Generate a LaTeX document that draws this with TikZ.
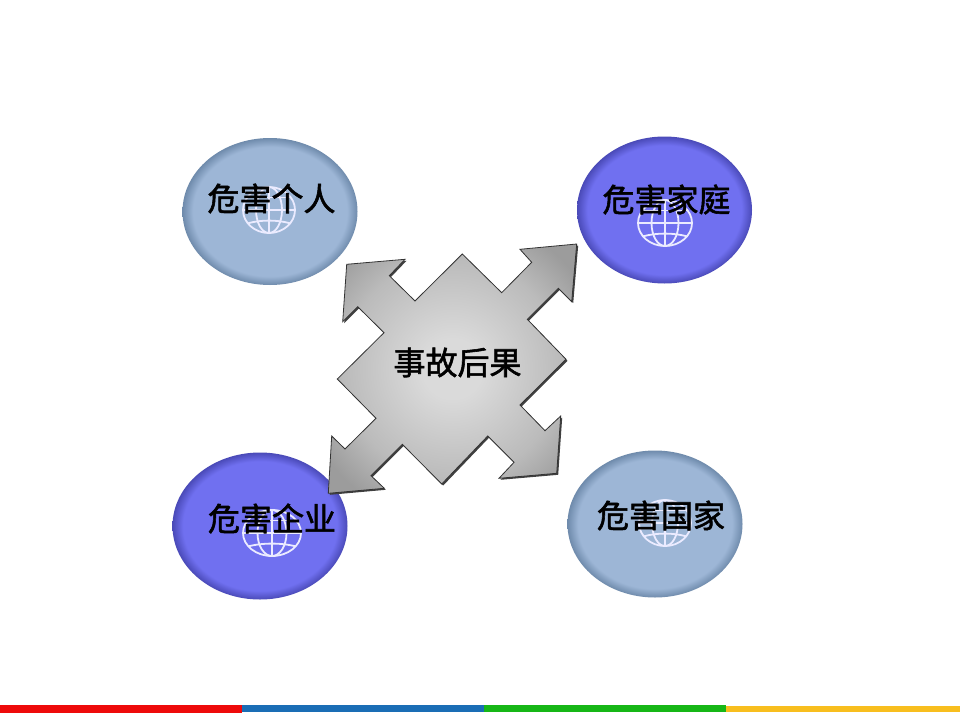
\documentclass[tikz,border=0pt]{standalone}
\usepackage{fontspec}
\newfontfamily\cjk[FakeBold=1.8]{Noto Sans CJK SC}
\definecolor{bluec}{HTML}{9DB6D6}
\definecolor{bluee}{HTML}{6F8BAC}
\definecolor{violc}{HTML}{7070F0}
\definecolor{viole}{HTML}{4A4AB8}
\pgfdeclareradialshading{ballblue}{\pgfpoint{0bp}{0bp}}{color(0bp)=(bluec);color(22bp)=(bluec);color(25bp)=(bluee);color(50bp)=(bluee)}
\pgfdeclareradialshading{ballviol}{\pgfpoint{0bp}{0bp}}{color(0bp)=(violc);color(22bp)=(violc);color(25bp)=(viole);color(50bp)=(viole)}
\definecolor{greyc}{HTML}{DADADA}
\definecolor{greym}{HTML}{BBBBBB}
\definecolor{greye}{HTML}{9C9C9C}
\pgfdeclareradialshading{crossgrey}{\pgfpoint{0bp}{0bp}}{color(0bp)=(greyc);color(6bp)=(greyc);color(22bp)=(greym);color(31bp)=(greye);color(50bp)=(greye)}
\definecolor{barred}{HTML}{EE0A0A}
\definecolor{barblue}{HTML}{1A6DB5}
\definecolor{bargreen}{HTML}{17B717}
\definecolor{baryellow}{HTML}{F8BE1E}
\tikzset{
  ballb/.style={shading=ballblue},
  ballv/.style={shading=ballviol},
  lbl/.style={font=\cjk\fontsize{32}{36}\selectfont,text=black,inner sep=0pt},
  globeline/.style={draw=white!92!blue,line width=1.8pt}
}
\newcommand{\drawglobe}[4]{%
  \begin{scope}[shift={(#1,#2)},x=#3pt,y=-#4pt,globeline]
    \draw (0,0) circle [x radius=1,y radius=1];
    \draw (0,-1) -- (0,1);
    \draw (0,0) circle [x radius=0.5,y radius=1];
    \draw (-1,0) -- (1,0);
    \draw (-0.84,-0.54) -- (0.84,-0.54);
    \draw (-0.82,0.58) .. controls (-0.3,0.42) and (0.3,0.42) .. (0.82,0.58);
  \end{scope}}
\newcommand{\crosspath}{(462.3,254) -- (501.7,292.7) -- (531.7,262.3) -- (520,249.3) -- (576.7,244) -- (571.7,301.7) -- (558.3,288.3) -- (527.3,319.3) -- (566,359.3) -- (520,405) -- (545,430.7) -- (560.7,416) -- (556.7,473.3) -- (499,478.3) -- (514,462.3) -- (487.7,436) -- (441.7,484) -- (402.3,444.3) -- (371,475.7) -- (384.3,488.3) -- (328.3,493.3) -- (331.7,436) -- (345,449) -- (376,418.3) -- (337.3,379) -- (384,332.7) -- (357.7,306.7) -- (342.7,321.7) -- (346.7,264.3) -- (405,259.3) -- (389.3,275.7) -- (415,301) -- cycle}
\begin{document}
\begin{tikzpicture}[x=1pt,y=-1pt]
  \useasboundingbox (0,0) rectangle (960,720);
  \fill[white] (0,0) rectangle (960,720);
  % bottom bars
  \fill[barred] (0,704.5) rectangle (242,712.5);
  \fill[barblue] (242,705) rectangle (484,712);
  \fill[bargreen] (484,705) rectangle (726,712);
  \fill[baryellow] (726,705.5) rectangle (960,711.5);
  % balls
  \shade[ballb] (270,211.5) ellipse [x radius=87.5,y radius=73.5];
  \shade[ballv] (664.5,210) ellipse [x radius=87.5,y radius=73.5];
  \shade[ballb] (655,524) ellipse [x radius=87.5,y radius=73.5];
  \shade[ballv] (260,526) ellipse [x radius=87.5,y radius=73.5];
  % globes
  \drawglobe{269}{210}{26}{23}
  \drawglobe{665}{223}{27}{23}
  \drawglobe{272}{533}{29}{23}
  \drawglobe{665}{523}{26}{23}
  % cross arrow
  \fill[black!75,shift={(1.5,1.5)}] \crosspath;
  \shade[shading=crossgrey,draw=black!80,line width=0.8pt] \crosspath;
  % labels
  \node[lbl] (centre) at (457.5,362.5) {事故后果};
  \node[lbl] (person) at (271.5,198.5) {危害个人};
  \node[lbl] (family) at (666.5,199.5) {危害家庭};
  \node[lbl] (firm) at (272,518.5) {危害企业};
  \node[lbl] (nation) at (661,515.5) {危害国家};
\end{tikzpicture}
\end{document}
